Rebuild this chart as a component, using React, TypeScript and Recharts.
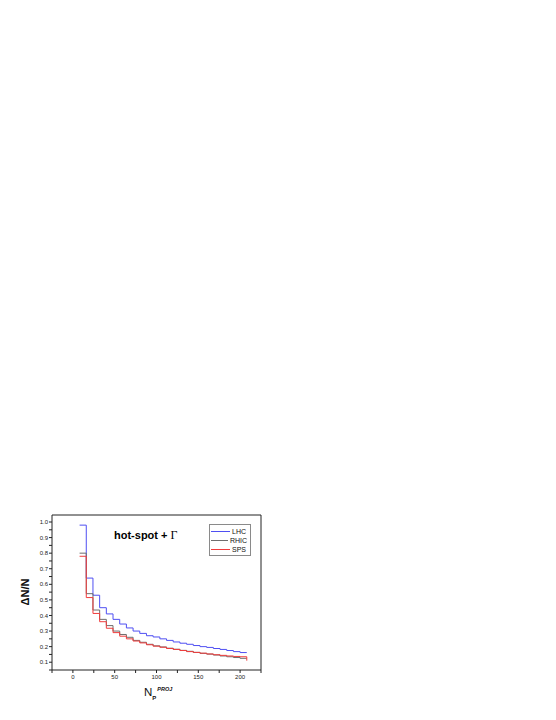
import React from "react";
import { LineChart, Line, XAxis, YAxis, Legend } from "recharts";

// lower edge of each N_p bin (the last entry closes the final bin)
const npEdges = [8, 16, 24, 32, 40, 48, 56, 64, 72, 80, 88, 96, 104, 112, 120, 128, 136, 144, 152, 160, 168, 176, 184, 192, 200, 208];

const lhc = [0.98, 0.64, 0.53, 0.45, 0.41, 0.375, 0.345, 0.32, 0.3, 0.285, 0.27, 0.262, 0.25, 0.24, 0.23, 0.222, 0.215, 0.207, 0.2, 0.195, 0.188, 0.182, 0.175, 0.168, 0.162, 0.162];
const rhic = [0.8, 0.54, 0.435, 0.375, 0.335, 0.3, 0.278, 0.26, 0.24, 0.228, 0.215, 0.205, 0.198, 0.19, 0.183, 0.176, 0.17, 0.163, 0.157, 0.152, 0.146, 0.14, 0.135, 0.13, 0.125, 0.125];
const sps = [0.78, 0.515, 0.413, 0.36, 0.318, 0.29, 0.267, 0.25, 0.236, 0.224, 0.212, 0.203, 0.196, 0.188, 0.182, 0.175, 0.168, 0.163, 0.158, 0.153, 0.148, 0.144, 0.14, 0.137, 0.135, 0.11];

const xTicks = [-25, 0, 25, 50, 75, 100, 125, 150, 175, 200, 225];
const yTicks = [0.05, 0.1, 0.15, 0.2, 0.25, 0.3, 0.35, 0.4, 0.45, 0.5, 0.55, 0.6, 0.65, 0.7, 0.75, 0.8, 0.85, 0.9, 0.95, 1.0];

const SERIES = [
  { key: "LHC", color: "#4f4ff2" },
  { key: "RHIC", color: "#6e6e6e" },
  { key: "SPS", color: "#f03c3c" },
];

const data = npEdges.map((np, i) => ({ np, LHC: lhc[i], RHIC: rhic[i], SPS: sps[i] }));

const FONT = "'Liberation Sans', Arial, sans-serif";
const tickStyle = { fontSize: 6, fill: "#222", fontFamily: FONT };

const fmtX = (v: number) => (v >= 0 && v % 50 === 0 ? String(v) : "");
const fmtY = (v: number) => (Math.round(v * 100) % 10 === 0 ? v.toFixed(1) : "");

function LegendBox() {
  return (
    <div style={{ border: "1px solid #8a8a8a", background: "#fff", padding: "2px 3px 1px 1px", width: 42, boxSizing: "border-box" }}>
      {SERIES.map((s) => (
        <div key={s.key} style={{ display: "flex", alignItems: "center", height: 9, fontFamily: FONT, fontSize: 7, color: "#111" }}>
          <span style={{ display: "block", width: 19, height: 1, background: s.color, marginRight: 2 }} />
          {s.key}
        </div>
      ))}
    </div>
  );
}

export default function App() {
  return (
    <div style={{ position: "absolute", left: 0, top: 0, width: 556, height: 720, background: "#fff", fontFamily: FONT }}>
      <LineChart width={556} height={720} data={data} margin={{ top: 515, right: 295, bottom: 30, left: 22 }}>
        <XAxis dataKey="np" type="number" domain={[-25, 225]} ticks={xTicks} tickFormatter={fmtX}
          stroke="#222" tickSize={3} tick={tickStyle} height={20} interval={0} />
        <XAxis xAxisId="top" orientation="top" type="number" domain={[-25, 225]} ticks={xTicks}
          stroke="#222" tickSize={3} tick={false} mirror />
        <YAxis type="number" domain={[0.05, 1.045]} ticks={yTicks} tickFormatter={fmtY}
          stroke="#222" tickSize={3} tickMargin={1} tick={tickStyle} width={30} interval={0} allowDataOverflow />
        <YAxis yAxisId="right" orientation="right" type="number" domain={[0.05, 1.045]} ticks={yTicks}
          stroke="#222" tickSize={3} tick={false} mirror />
        <Legend layout="horizontal" verticalAlign="middle" align="center" content={<LegendBox />}
          wrapperStyle={{ left: 209, top: 524, width: 42, height: 30 }} />
        {SERIES.map((s) => (
          <Line key={s.key} type="stepAfter" dataKey={s.key} stroke={s.color} strokeWidth={1}
            dot={false} isAnimationActive={false} />
        ))}
      </LineChart>
      <div style={{ position: "absolute", left: 114, top: 528, fontSize: 11, fontWeight: "bold", color: "#000", whiteSpace: "nowrap" }}>
        hot-spot + <span style={{ fontFamily: "'Liberation Serif', serif", fontWeight: "normal", fontSize: 12 }}>Γ</span>
      </div>
      <div style={{ position: "absolute", left: 25, top: 592, transform: "translate(-50%, -50%) rotate(-90deg)", fontSize: 11, fontWeight: "bold", whiteSpace: "nowrap", color: "#111" }}>
        ΔN/N
      </div>
      <div style={{ position: "absolute", left: 144, top: 687, fontSize: 11.5, whiteSpace: "nowrap", color: "#111", lineHeight: 1 }}>
        N<span style={{ fontSize: 6, fontWeight: "bold", position: "relative", top: 4 }}>P</span>
        <span style={{ fontSize: 5.5, fontWeight: "bold", fontStyle: "italic", position: "relative", top: -5, marginLeft: 1 }}>PROJ</span>
      </div>
    </div>
  );
}
